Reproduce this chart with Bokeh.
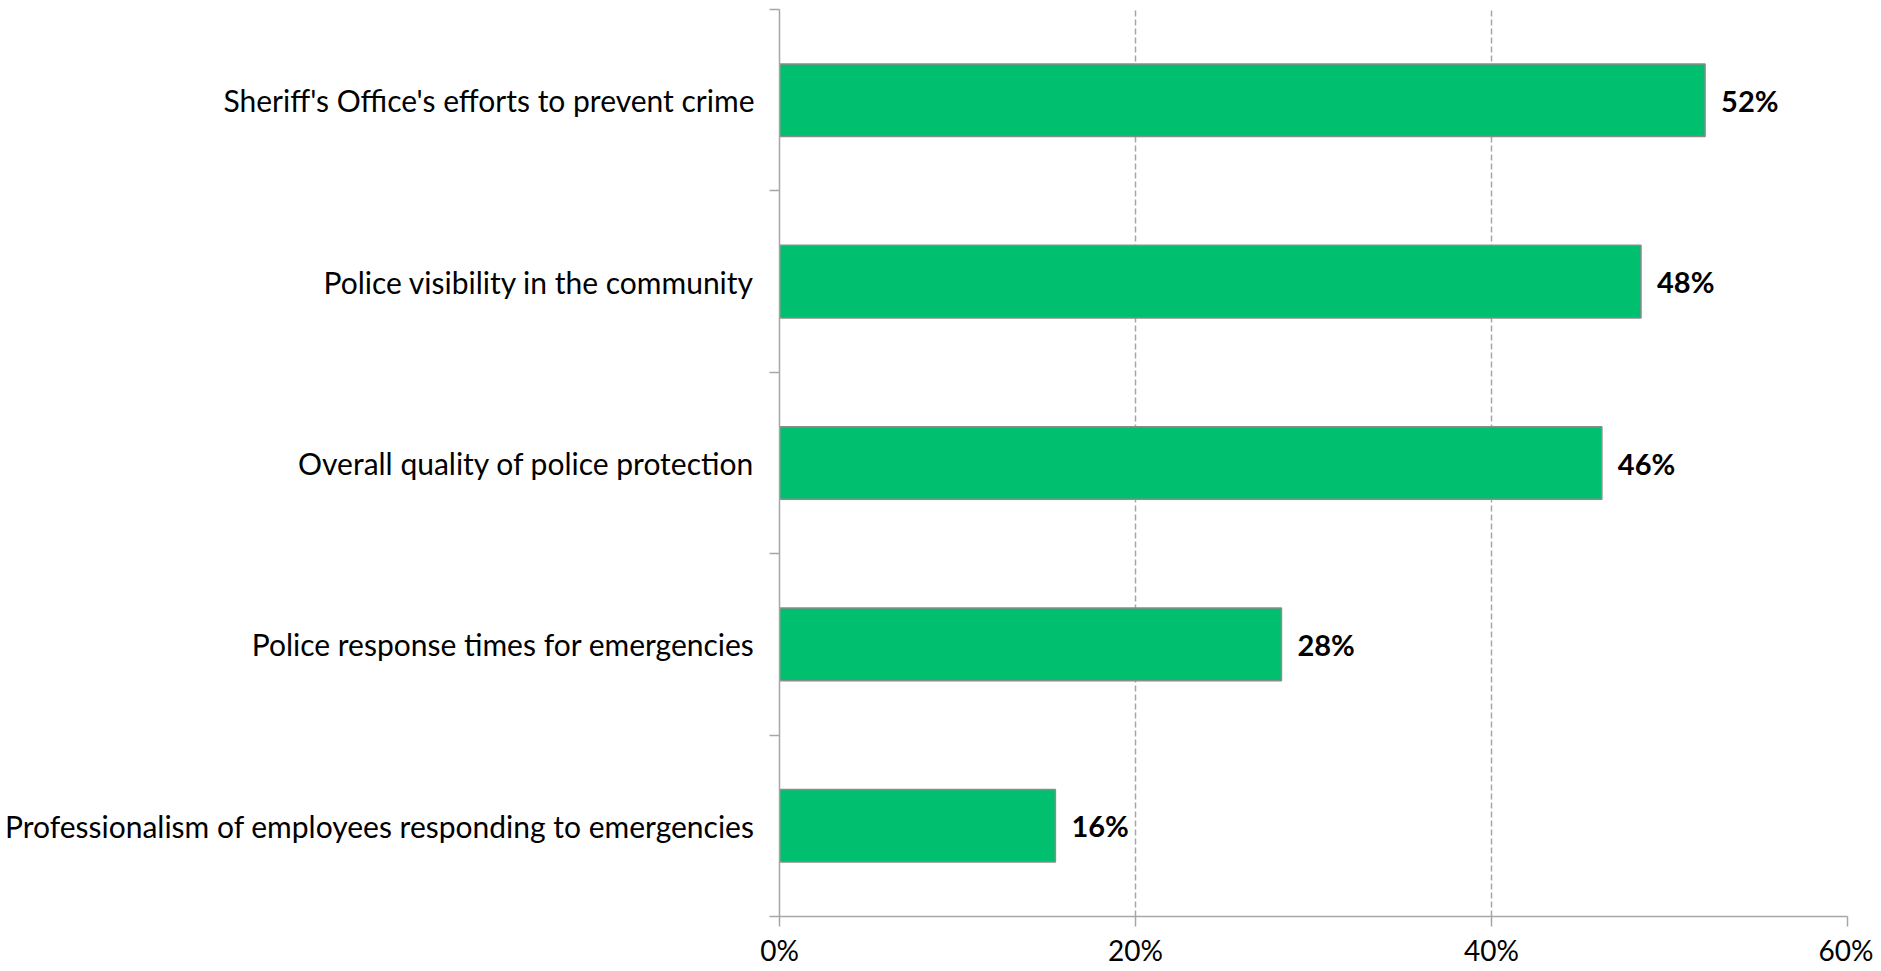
from bokeh.plotting import figure
from bokeh.models import ColumnDataSource, Range1d, FixedTicker, PrintfTickFormatter
from bokeh.core.properties import value
from bokeh.embed import file_html
from bokeh.resources import INLINE

categories = [
    "Sheriff's Office's efforts to prevent crime",
    "Police visibility in the community",
    "Overall quality of police protection",
    "Police response times for emergencies",
    "Professionalism of employees responding to emergencies",
]
values = [52.0, 48.4, 46.2, 28.2, 15.5]
value_labels = ["52%", "48%", "46%", "28%", "16%"]
x_ticks = [0, 20, 40, 60]

n = len(categories)
ypos = [n - i - 0.5 for i in range(n)]
boundaries = list(range(n + 1))

FONT = "Lato"

src = ColumnDataSource(dict(y=ypos, v=values, lab=value_labels))

p = figure(
    frame_width=1068, frame_height=907,
    x_range=Range1d(0, 60), y_range=Range1d(0, n),
    output_backend="svg", toolbar_location=None,
    min_border_left=779, min_border_right=26,
    min_border_top=9, min_border_bottom=55,
)
p.outline_line_color = None
p.background_fill_color = "white"
p.border_fill_color = "white"

p.hbar(y="y", right="v", left=0, height=0.40, source=src,
       fill_color="#00BF6F", line_color="#8c8c8c", line_width=1.5)

p.text(x="v", y="y", text="lab", source=src, x_offset=16,
       text_baseline="middle", text_align="left",
       text_font=value(FONT), text_font_style="bold",
       text_font_size="29px", text_color="black")

# x axis
xa = p.xaxis[0]
xa.ticker = FixedTicker(ticks=x_ticks, minor_ticks=[])
xa.formatter = PrintfTickFormatter(format="%d%%")
xa.axis_line_color = "#a6a6a6"
xa.axis_line_width = 1.5
xa.major_tick_line_color = "#a6a6a6"
xa.major_tick_line_width = 1.5
xa.major_tick_in = 0
xa.major_tick_out = 10
xa.minor_tick_line_color = None
xa.major_label_text_font = FONT
xa.major_label_text_font_size = "28px"
xa.major_label_text_color = "black"
xa.major_label_standoff = 6

# y axis
ya = p.yaxis[0]
ya.ticker = FixedTicker(ticks=ypos, minor_ticks=boundaries)
ya.major_label_overrides = {y: c for y, c in zip(ypos, categories)}
ya.axis_line_color = "#a6a6a6"
ya.axis_line_width = 1.5
ya.major_tick_line_color = None
ya.major_tick_in = 0
ya.major_tick_out = 0
ya.minor_tick_line_color = "#a6a6a6"
ya.minor_tick_line_width = 1.5
ya.minor_tick_in = 0
ya.minor_tick_out = 10
ya.major_label_text_font = FONT
ya.major_label_text_font_size = "30px"
ya.major_label_text_color = "black"
ya.major_label_standoff = 15

p.xgrid.ticker = FixedTicker(ticks=x_ticks[1:])
p.xgrid.grid_line_color = "#a6a6a6"
p.xgrid.grid_line_dash = "6 3"
p.xgrid.grid_line_width = 1.5
p.ygrid.grid_line_color = None

open("out.html", "w").write(file_html(p, INLINE))
